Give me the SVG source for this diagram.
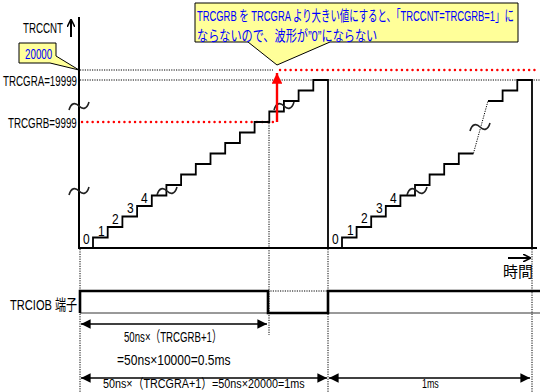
<svg xmlns="http://www.w3.org/2000/svg" xmlns:xlink="http://www.w3.org/1999/xlink" width="540" height="392" viewBox="0 0 540 392">
<style>
.t{font-family:"Liberation Sans","Noto Sans CJK JP",sans-serif;fill:#000;}
.b{fill:#0000ff;}
.thick{stroke:#000;stroke-width:2;fill:none;}
.stair{stroke:#000;stroke-width:1.8;fill:none;}
.dot{stroke:#000;stroke-width:1;stroke-dasharray:1.2 1.2;fill:none;}
.rdot{stroke:#ff0000;stroke-width:2.4;stroke-dasharray:0.1 5.2;stroke-linecap:round;fill:none;}
.tl{stroke:#222;stroke-width:1.6;fill:none;}
.dim{stroke:#000;stroke-width:1.6;fill:none;marker-start:url(#ah);marker-end:url(#ah);}
.callout{fill:#ffff99;stroke:#000;stroke-width:1;}
</style>
<defs>
<marker id="ah" viewBox="0 0 10 10" refX="10" refY="5" markerWidth="6" markerHeight="6" orient="auto-start-reverse" markerUnits="strokeWidth">
<path d="M0,0 L10,5 L0,10 Z" fill="#000"/>
</marker>
<marker id="ah2" viewBox="0 0 10 10" refX="9" refY="5" markerWidth="4" markerHeight="4" orient="auto" markerUnits="strokeWidth">
<path d="M0,0 L10,5 L0,10" fill="none" stroke="#000" stroke-width="2"/>
</marker>
<marker id="ahr" viewBox="0 0 10 10" refX="10" refY="5" markerWidth="4.5" markerHeight="4.5" orient="auto" markerUnits="strokeWidth">
<path d="M0,0 L10,5 L0,10 Z" fill="#ff0000"/>
</marker>
<path id="tilde" d="M-10,4 C-8,-3 -4,-4 0,0 C4,4 8,3 10,-4"/>
</defs>

<g id="guides">
<path class="dot" d="M80,70 H273"/>
<path class="rdot" d="M280,70 H537"/>
<path class="dot" d="M80,80 H540"/>
<path class="rdot" d="M82,122 H275"/>
<path class="dot" d="M80,249 V392"/>
<path class="dot" d="M269,123 V335"/>
<path class="dot" d="M328,249 V392"/>
<path class="dot" d="M532,249 V392"/>
<path class="dot" d="M268,291 H328"/>
</g>

<g id="axes">
<path class="thick" d="M79,17 V249"/>
<path class="thick" d="M78,248 H537"/>
<path stroke="#000" stroke-width="2" fill="none" d="M71,37 V20" marker-end="url(#ah2)"/>
<path stroke="#000" stroke-width="2" fill="none" d="M508,258 H530" marker-end="url(#ah2)"/>
</g>

<g id="staircase1">
<path class="stair" d="M79,248 H93 V237.5 H107.7 V227 H122.4 V216.5 H137.1 V206 H151.8 V195.5 H166.4 V185 H181.1 V174.5 H195.8 V164 H210.5 V153.5 H225.2 V143 H239.9 V132.5 H254.6 V122 H269.3 V111.5 H283.9 V101 H298.6 V90.5 H313.3 V80 H328 V248"/>
</g>
<g id="staircase2">
<path class="stair" d="M328,248 H342 V237.5 H356.6 V227 H371.2 V216.5 H385.8 V206 H400.4 V195.5 H415 V185 H429.6 V174.5 H444.2 V164 H458.8 V153.5 H473.4"/>
<path class="dot" d="M473.4,153.5 L488,101"/>
<path class="stair" d="M488,101 H502.6 V90.5 H517.3 V80 H532 V248"/>
</g>

<g id="breaks">
<use xlink:href="#tilde" class="tl" x="79" y="106"/>
<use xlink:href="#tilde" class="tl" x="79" y="191"/>
<use xlink:href="#tilde" class="tl" x="167" y="191"/>
<use xlink:href="#tilde" class="tl" x="284" y="106"/>
<use xlink:href="#tilde" class="tl" x="417" y="191"/>
<use xlink:href="#tilde" class="tl" x="480" y="127"/>
</g>

<g id="red-arrow">
<path stroke="#ff0000" stroke-width="2.4" fill="none" d="M277,122 V73" marker-end="url(#ahr)"/>
</g>

<g id="labels">
<text class="t" transform="translate(23,33) scale(0.8,1)" font-size="15" textLength="50" lengthAdjust="spacingAndGlyphs">TRCCNT</text>
<text class="t" transform="translate(3,86) scale(0.8,1)" font-size="15" textLength="92.5" lengthAdjust="spacingAndGlyphs">TRCGRA=19999</text>
<text class="t" transform="translate(8,128) scale(0.8,1)" font-size="15" textLength="86" lengthAdjust="spacingAndGlyphs">TRCGRB=9999</text>
<text class="t" transform="translate(10,310) scale(0.8,1)" font-size="15" textLength="84" lengthAdjust="spacingAndGlyphs">TRCIOB 端子</text>
<text class="t" x="503" y="277" font-size="15" textLength="30" lengthAdjust="spacingAndGlyphs">時間</text>
</g>

<g id="digits1" class="t" font-size="15">
<text transform="translate(83,244) scale(0.8,1)">0</text>
<text transform="translate(98,236) scale(0.8,1)">1</text>
<text transform="translate(112,224) scale(0.8,1)">2</text>
<text transform="translate(127,213) scale(0.8,1)">3</text>
<text transform="translate(141,203) scale(0.8,1)">4</text>
</g>
<g id="digits2" class="t" font-size="15">
<text transform="translate(332,244) scale(0.8,1)">0</text>
<text transform="translate(347,235) scale(0.8,1)">1</text>
<text transform="translate(361,223) scale(0.8,1)">2</text>
<text transform="translate(376,213) scale(0.8,1)">3</text>
<text transform="translate(390,203) scale(0.8,1)">4</text>
</g>

<g id="callout-main">
<path class="callout" d="M195,3 H518 V42 H330 L277,65 L248,42 H195 Z"/>
<text class="t b" transform="translate(197,21) scale(0.66,1)" font-size="15" textLength="480" lengthAdjust="spacingAndGlyphs">TRCGRB を TRCGRA より大きい値にすると、「TRCCNT=TRCGRB=1」に</text>
<text class="t b" transform="translate(197,41) scale(0.66,1)" font-size="15" textLength="273" lengthAdjust="spacingAndGlyphs">ならないので、波形が”0”にならない</text>
</g>

<g id="callout-20000">
<path class="callout" d="M19,43 H56 V56 L79,70 L50,63 H19 Z"/>
<text class="t b" transform="translate(25,59) scale(0.8,1)" font-size="14" textLength="34" lengthAdjust="spacingAndGlyphs">20000</text>
</g>

<g id="pulse">
<path stroke="#000" stroke-width="0.8" fill="none" d="M80,313 H268 M328,313 H540"/>
<path stroke="#000" stroke-width="2.6" fill="none" d="M80,313 V291 H268 V313 H328 V291 H540"/>
</g>

<g id="connectors">
<path class="dim" d="M81,324 H267"/>
<path class="dim" d="M81,378 H327"/>
<path class="dim" d="M329,378 H530"/>
</g>

<g id="dim-labels" class="t" font-size="15">
<text transform="translate(124,342) scale(0.8,1)" textLength="122" lengthAdjust="spacingAndGlyphs">50ns×（TRCGRB+1）</text>
<text transform="translate(117,365) scale(0.8,1)" textLength="142" lengthAdjust="spacingAndGlyphs">=50ns×10000=0.5ms</text>
<text transform="translate(103,388) scale(0.8,1)" font-size="13.5" textLength="252" lengthAdjust="spacingAndGlyphs">50ns×（TRCGRA+1）=50ns×20000=1ms</text>
<text transform="translate(422,388) scale(0.8,1)" font-size="13.5" textLength="21" lengthAdjust="spacingAndGlyphs">1ms</text>
</g>
</svg>
